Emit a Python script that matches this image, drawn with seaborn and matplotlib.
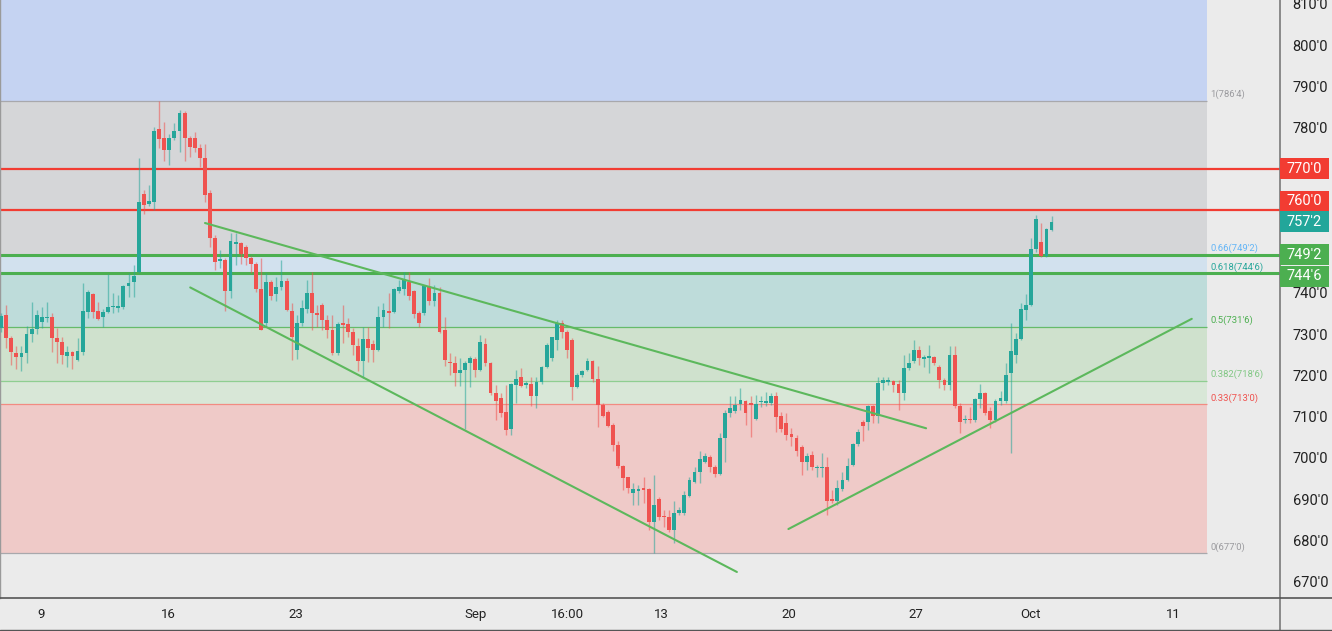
import numpy as np
import pandas as pd
import matplotlib
matplotlib.use("Agg")
import matplotlib.pyplot as plt
from matplotlib.patches import Rectangle
from matplotlib.lines import Line2D
import seaborn as sns

# ---------------- data ----------------
opens = [731.5, 734.7, 729.0, 725.5, 724.5, 725.4, 730.0, 731.3, 733.0, 733.9,
         734.2, 729.0, 728.0, 724.7, 725.7, 723.8, 725.7, 735.4, 739.7, 735.6,
         734.2, 735.4, 736.5, 736.3, 736.6, 741.7, 742.6, 745.0, 764.0, 761.5,
         762.0, 779.7, 777.5, 774.6, 777.5, 779.2, 783.6, 777.5, 777.5, 775.0,
         772.7, 764.2, 753.3, 747.6, 748.0, 740.5, 751.8, 752.0, 751.0, 748.4,
         747.0, 741.0, 732.6, 742.7, 739.7, 741.5, 742.9, 735.6, 726.2, 732.6,
         736.1, 739.9, 735.2, 737.1, 733.4, 731.0, 725.4, 732.6, 732.4, 730.4,
         727.2, 723.5, 728.8, 727.5, 726.2, 734.2, 735.6, 735.3, 740.5, 741.0,
         742.7, 740.5, 735.0, 735.1, 741.5, 737.9, 739.9, 731.0, 723.3, 723.0,
         720.5, 721.2, 723.1, 723.9, 721.2, 727.6, 723.0, 715.7, 714.5, 711.2,
         707.0, 717.7, 719.6, 717.6, 718.0, 715.1, 718.5, 722.0, 724.2, 728.6,
         732.6, 730.6, 728.6, 717.3, 720.1, 721.2, 723.4, 719.1, 712.9, 711.2,
         708.0, 703.2, 698.0, 695.3, 691.6, 692.0, 692.7, 692.4, 684.6, 690.0,
         686.0, 685.8, 682.6, 686.6, 686.6, 690.8, 694.3, 696.5, 699.1, 700.2,
         697.9, 696.2, 704.8, 710.8, 711.3, 713.1, 713.9, 713.3, 709.4, 713.5,
         713.4, 713.3, 715.0, 710.2, 708.4, 705.8, 704.8, 702.6, 699.1, 700.7,
         697.6, 697.6, 697.8, 690.1, 689.5, 692.4, 694.7, 698.3, 703.4, 708.6,
         708.6, 712.6, 710.2, 718.1, 718.5, 718.7, 717.9, 715.8, 721.7, 723.6,
         726.2, 724.0, 724.3, 724.4, 722.1, 718.9, 717.7, 724.9, 712.6, 709.2,
         709.4, 709.1, 714.2, 715.8, 711.5, 709.1, 713.9, 713.9, 720.5, 725.0,
         728.8, 735.9, 737.1, 750.5, 752.4, 748.9, 755.2]
highs = [735.0, 737.0, 729.5, 727.0, 727.0, 732.0, 737.8, 735.9, 736.6, 737.8,
         735.0, 731.5, 729.3, 727.0, 726.0, 729.0, 742.4, 740.8, 740.0, 737.8,
         736.0, 744.5, 740.0, 739.5, 742.0, 744.8, 746.8, 772.7, 765.0, 766.0,
         780.2, 786.5, 781.4, 778.5, 781.0, 784.3, 784.0, 778.0, 779.0, 776.0,
         776.0, 765.0, 754.0, 750.4, 748.5, 754.4, 754.4, 752.4, 751.5, 748.8,
         747.5, 748.4, 744.7, 743.0, 743.9, 748.0, 743.5, 737.5, 734.6, 738.3,
         743.1, 745.1, 737.0, 737.5, 734.6, 734.6, 733.0, 737.1, 733.9, 731.4,
         729.0, 731.8, 731.8, 728.6, 736.7, 737.5, 739.9, 741.2, 743.1, 745.1,
         745.1, 740.7, 735.5, 742.0, 743.5, 742.0, 741.5, 734.2, 725.5, 724.6,
         724.2, 723.4, 724.8, 724.5, 729.8, 729.0, 723.3, 717.7, 715.7, 717.7,
         718.1, 721.3, 721.7, 718.6, 719.7, 719.7, 722.2, 727.8, 729.4, 733.4,
         733.4, 731.0, 729.0, 720.5, 721.4, 724.2, 723.8, 722.3, 713.3, 711.7,
         708.4, 704.0, 698.4, 695.5, 693.9, 693.5, 695.5, 692.8, 695.9, 690.6,
         687.4, 687.4, 689.5, 688.2, 691.9, 695.5, 697.9, 701.6, 701.2, 700.8,
         698.3, 706.0, 711.6, 715.0, 714.9, 716.9, 714.1, 714.9, 715.3, 715.0,
         716.1, 715.7, 716.1, 711.2, 710.8, 707.2, 705.6, 703.2, 701.2, 701.6,
         698.3, 701.2, 700.3, 692.3, 694.7, 696.7, 699.9, 703.6, 707.0, 709.2,
         712.9, 712.9, 719.7, 719.7, 719.7, 718.9, 718.9, 725.0, 725.4, 728.6,
         727.0, 725.0, 727.4, 724.6, 722.5, 719.3, 727.0, 727.0, 713.2, 710.4,
         712.4, 714.5, 717.9, 716.1, 712.4, 714.2, 716.3, 723.1, 732.8, 730.2,
         737.5, 739.7, 753.2, 758.9, 757.0, 755.8, 758.6]
lows = [730.5, 726.7, 722.5, 721.5, 721.0, 723.0, 728.0, 730.0, 731.5, 733.0,
        725.7, 723.0, 722.8, 722.0, 721.5, 723.5, 725.0, 734.0, 733.9, 733.5,
        731.7, 735.0, 735.0, 735.3, 736.0, 739.0, 739.0, 744.8, 759.0, 761.0,
        760.0, 775.0, 772.0, 771.0, 777.0, 774.0, 772.0, 773.0, 774.0, 770.5,
        762.0, 751.0, 745.5, 746.0, 735.5, 738.7, 746.8, 747.0, 746.8, 744.7,
        740.3, 731.0, 732.0, 738.3, 737.9, 740.7, 735.5, 723.7, 724.0, 732.0,
        735.0, 731.0, 731.8, 731.0, 729.0, 725.0, 725.0, 727.8, 729.4, 725.0,
        721.0, 719.3, 723.3, 723.3, 725.8, 731.8, 731.4, 735.0, 739.9, 739.5,
        738.3, 733.9, 731.8, 734.7, 737.0, 736.7, 730.2, 722.3, 720.1, 717.5,
        717.5, 707.0, 717.2, 719.6, 721.0, 722.2, 715.3, 709.2, 710.0, 705.6,
        705.6, 713.3, 717.3, 716.9, 712.5, 712.0, 718.0, 721.8, 723.4, 726.2,
        729.0, 724.2, 714.1, 716.9, 719.7, 721.0, 718.5, 707.6, 710.0, 707.6,
        701.8, 697.6, 692.3, 691.5, 688.6, 688.6, 689.0, 682.6, 677.0, 685.0,
        683.4, 682.2, 679.4, 686.2, 686.2, 690.6, 693.9, 693.9, 698.7, 696.7,
        695.5, 695.9, 699.1, 710.0, 710.8, 711.6, 708.0, 705.2, 709.2, 712.4,
        712.5, 712.9, 706.4, 706.4, 704.4, 702.8, 700.5, 695.9, 697.1, 697.1,
        695.5, 695.5, 686.2, 689.0, 688.6, 692.0, 694.5, 698.0, 703.0, 704.0,
        706.8, 708.4, 708.4, 716.5, 717.7, 716.1, 711.7, 714.0, 721.3, 723.0,
        722.5, 722.0, 720.5, 722.5, 716.9, 716.5, 716.5, 712.0, 706.0, 708.4,
        708.4, 708.8, 712.0, 710.4, 707.2, 708.6, 712.9, 713.2, 701.3, 723.0,
        728.6, 733.3, 736.7, 750.0, 748.6, 748.7, 755.0]
closes = [734.5, 729.1, 725.7, 724.5, 725.5, 730.0, 731.3, 734.7, 734.2, 734.2,
          729.1, 728.0, 725.0, 725.7, 724.7, 726.0, 735.6, 740.2, 735.4, 733.7,
          735.4, 736.6, 736.8, 736.8, 741.7, 742.4, 744.1, 762.0, 761.3, 762.2,
          779.2, 777.3, 774.6, 777.5, 779.2, 783.6, 777.5, 775.3, 775.0, 772.7,
          763.7, 753.3, 747.5, 748.1, 740.5, 752.6, 752.3, 749.3, 748.4, 747.0,
          741.0, 731.0, 742.7, 739.3, 741.5, 742.9, 735.9, 729.4, 732.6, 736.4,
          739.9, 735.0, 734.7, 733.4, 731.0, 725.4, 732.4, 732.2, 730.4, 727.4,
          723.5, 728.8, 726.7, 726.2, 734.2, 735.9, 735.1, 741.0, 741.5, 743.4,
          739.3, 734.8, 732.6, 741.7, 737.9, 739.9, 730.6, 723.8, 723.0, 720.5,
          721.3, 723.1, 724.2, 721.3, 728.0, 723.0, 715.7, 713.7, 710.8, 706.8,
          718.0, 719.1, 717.5, 718.1, 715.1, 718.5, 722.0, 727.4, 729.2, 732.6,
          730.6, 726.2, 717.3, 720.1, 721.0, 723.4, 719.1, 712.9, 710.2, 707.8,
          703.2, 698.0, 695.1, 692.7, 692.4, 692.4, 692.3, 684.6, 688.6, 685.8,
          685.6, 682.6, 686.6, 687.3, 691.1, 694.7, 696.7, 699.7, 700.4, 697.8,
          696.2, 704.8, 711.0, 712.1, 712.9, 714.1, 710.8, 712.9, 713.1, 713.8,
          713.8, 715.0, 709.9, 707.0, 705.6, 705.2, 701.8, 699.1, 700.4, 697.8,
          697.9, 697.9, 689.7, 689.6, 692.7, 694.7, 698.1, 703.4, 706.2, 707.8,
          712.6, 710.2, 718.2, 718.9, 718.8, 717.6, 715.8, 721.7, 723.1, 726.2,
          724.2, 724.4, 724.5, 723.1, 718.9, 717.7, 724.9, 712.6, 708.8, 709.5,
          709.1, 714.2, 715.7, 711.0, 709.1, 713.9, 714.5, 720.1, 725.8, 728.8,
          736.0, 737.1, 750.5, 757.8, 748.9, 755.4, 757.25]

tick_pos = [8.8, 33.9, 58.8, 94.1, 112.0, 130.4, 155.5, 180.4, 202.8, 230.8]
tick_labels = ["9", "16", "23", "Sep", "16:00", "13", "20", "27", "Oct", "11"]

price_ticks = [670, 680, 690, 700, 710, 720, 730, 740, 780, 790, 800, 810]

fib_ratios = [1, 0.66, 0.618, 0.5, 0.382, 0.33, 0]
fib_prices = [786.5, 749.25, 744.75, 731.75, 718.75, 713.0, 677.0]

resistance_levels = [770.0, 760.0]
support_levels = [749.25, 744.75]
last_price = 757.25

trend_upper_x = [41.0, 182.4]
trend_upper_y = [756.9, 707.2]
trend_lower_x = [38.1, 145.3]
trend_lower_y = [741.3, 672.4]
trend_rise_x = [155.4, 234.5]
trend_rise_y = [682.8, 733.7]

# ---------------- style ----------------
sns.set_theme(style="white")
plt.rcParams["font.family"] = ["Roboto", "DejaVu Sans"]

BG = "#ebebeb"
UP = "#26a69a"
DOWN = "#ef5350"
RED = "#f23c32"
GREEN = "#4caf50"

W, H = 1332, 631
fig = plt.figure(figsize=(W / 100, H / 100), dpi=100, facecolor=BG)
ax_left, ax_bottom = 0.0, (H - 598) / H
ax_w, ax_h = 1280 / W, 598 / H
ax = fig.add_axes([ax_left, ax_bottom, ax_w, ax_h], facecolor=BG)

XMIN, XMAX = 0.8, 251.8
YMIN, YMAX = 666.1, 810.9
ax.set_xlim(XMIN, XMAX)
ax.set_ylim(YMIN, YMAX)

# fib zones
band_end = 237.5
band_frac = (band_end - XMIN) / (XMAX - XMIN)
zone_colors = ["#c5d3f2", "#d5d6d8", "#d2e1ee", "#bedcda", "#cfe1cd", "#d8e7d7", "#efcac8"]
edges = [YMAX] + fib_prices
for i, col in enumerate(zone_colors):
    ax.axhspan(edges[i + 1], edges[i], xmin=0, xmax=band_frac, color=col, lw=0, zorder=0)

fib_line_colors = ["#a8a8ac", "#64b5f6", "#26a69a", "#66bb6a", "#8fce91", "#f28b82", "#a8a8ac"]
fib_text_colors = ["#9a9a9e", "#64b5f6", "#26a69a", "#4caf50", "#81c784", "#ef5350", "#9a9a9e"]


def fmt(p):
    whole = int(np.floor(p + 1e-9))
    eighth = int(round((p - whole) * 8))
    return f"{whole}'{eighth}"


for r, p, lc, tc in zip(fib_ratios, fib_prices, fib_line_colors, fib_text_colors):
    if p not in support_levels:
        ax.hlines(p, XMIN, band_end, colors=lc, lw=0.9, zorder=1)
    rs = f"{r:g}"
    ax.text(band_end + 0.6, p + 0.35, f"{rs}({fmt(p)})", color=tc, fontsize=6.8,
            ha="left", va="bottom", zorder=5)

# key horizontal levels
for p in resistance_levels:
    ax.axhline(p, color=RED, lw=1.6, zorder=2)
for p in support_levels:
    ax.axhline(p, color=GREEN, lw=2.2, zorder=2)

# candles
df = pd.DataFrame({"open": opens, "high": highs, "low": lows, "close": closes})
df["idx"] = np.arange(1, len(df) + 1)
df["up"] = df["close"] >= df["open"]
cols = np.where(df["up"], UP, DOWN)
body_lo = np.minimum(df["open"], df["close"])
body_h = np.maximum(np.abs(df["close"] - df["open"]), 0.3)
ax.vlines(df["idx"], df["low"], df["high"], colors=cols, lw=1.0, alpha=0.55, zorder=3)
ax.bar(df["idx"], body_h, bottom=body_lo, width=0.75, color=cols, lw=0, zorder=4)

# trend lines (seaborn)
for tx, ty in [(trend_upper_x, trend_upper_y), (trend_lower_x, trend_lower_y),
               (trend_rise_x, trend_rise_y)]:
    sns.lineplot(x=tx, y=ty, ax=ax, color="#5cb85c", lw=1.5, zorder=6, legend=False)

# axes styling
ax.set_xticks(tick_pos)
ax.set_xticklabels(tick_labels)
ax.yaxis.tick_right()
ax.set_yticks(price_ticks)
ax.set_yticklabels([fmt(v) for v in price_ticks])
ax.tick_params(axis="x", length=0, pad=7, labelsize=9.5, labelcolor="#222222")
ax.tick_params(axis="y", length=0, pad=9, labelsize=10.5, labelcolor="#222222")
ax.set_xlabel("")
ax.set_ylabel("")
ax.grid(False)
ax.spines["top"].set_visible(False)
ax.spines["left"].set_color("#9a9a9a")
ax.spines["left"].set_linewidth(1.0)
ax.spines["right"].set_color("#7a7a7a")
ax.spines["right"].set_linewidth(1.2)
ax.spines["bottom"].set_color("#555555")
ax.spines["bottom"].set_linewidth(1.2)

# separators extending into axis areas
fig.add_artist(Line2D([1280 / W, 1280 / W], [0, ax_bottom], transform=fig.transFigure,
                      color="#7a7a7a", lw=1.2))
fig.add_artist(Line2D([1280 / W, 1], [ax_bottom, ax_bottom], transform=fig.transFigure,
                      color="#555555", lw=1.2))
fig.add_artist(Line2D([0, 1], [1.5 / H, 1.5 / H], transform=fig.transFigure,
                      color="#555555", lw=1.0))

# price tags
tag_prices = [770.0, 760.0, last_price, 749.25, 744.75]
tag_colors = [RED, RED, "#22a69a", GREEN, GREEN]
tag_shift_px = [0, -9, 0, 0, 3]
tag_h = 21


def price_to_px(p):
    return (YMAX - p) / (YMAX - YMIN) * 598


for p, c, sh in zip(tag_prices, tag_colors, tag_shift_px):
    cy = price_to_px(p) + sh
    y0 = 1 - (cy + tag_h / 2) / H
    fig.add_artist(Rectangle((1280 / W, y0), 49 / W, tag_h / H, transform=fig.transFigure,
                             facecolor=c, edgecolor="none", zorder=10))
    fig.text(1304.5 / W, 1 - cy / H, fmt(p), color="white", fontsize=10.5,
             ha="center", va="center", zorder=11)

fig.savefig("out.png", dpi=100, facecolor=BG)
